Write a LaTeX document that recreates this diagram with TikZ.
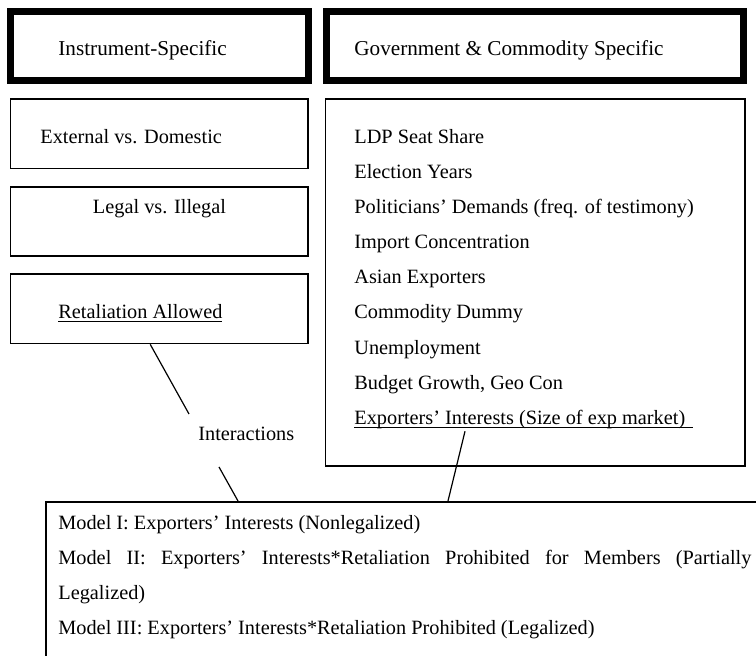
\documentclass[tikz,border=0pt]{standalone}
\usepackage{fontspec}
\setmainfont{Liberation Serif}
\usetikzlibrary{positioning,calc}

\newcommand{\uline}[1]{\underline{\smash{#1}}}

\tikzset{
  headbox/.style={draw, line width=3.5pt, minimum height=34.5pt},
  factorbox/.style={draw, line width=0.8pt},
  link/.style={line width=0.6pt},
  headtext/.style={font=\fontsize{10.6}{13}\selectfont, inner sep=0pt},
  bodytext/.style={font=\fontsize{10.15}{17.5}\selectfont, inner sep=0pt}
}

\begin{document}
\begin{tikzpicture}[x=0.5pt,y=-0.5pt]
\useasboundingbox (0,0) rectangle (756,656);
\clip (0,0) rectangle (756,656);
% header boxes
\node[headbox, minimum width=149pt] (insthead) at (159.5,46) {};
\node[headbox, minimum width=208.5pt] (govhead) at (534.5,46) {};
\node[headtext, anchor=base west] (insttitle) at (58,56) {Instrument-Specific};
\node[headtext, anchor=base west] (govtitle) at (354,56) {Government \& Commodity Specific};
% instrument factors
\node[factorbox, minimum width=148.75pt, minimum height=34.75pt] (extbox) at (159.25,133.75) {};
\node[factorbox, minimum width=148.75pt, minimum height=34.5pt] (legalbox) at (159.25,221.5) {};
\node[factorbox, minimum width=148.75pt, minimum height=34.75pt] (retalbox) at (159.25,308.75) {};
\node[bodytext, anchor=base west] (exttext) at (40,143.3) {External vs. Domestic};
\node[bodytext, anchor=base] (legaltext) at (159.5,213.3) {Legal vs. Illegal};
\node[bodytext, anchor=base west] (retaltext) at (58,318.3) {\uline{Retaliation Allowed}};
% government and commodity factors
\node[factorbox, minimum width=209.75pt, minimum height=183.5pt] (govbox) at (535.25,282.5) {};
\foreach \item [count=\i from 0] in {LDP Seat Share, Election Years,
    Politicians' Demands (freq. of testimony), Import Concentration,
    Asian Exporters, Commodity Dummy, Unemployment, {Budget Growth, Geo Con},
    {\uline{Exporters' Interests (Size of exp market)\hspace{4pt}}}}
  \node[bodytext, anchor=base west] (gov\i) at (354,143.5+35.1*\i) {\item};
% interactions
\node[bodytext, anchor=base west] (inter) at (198,440.3) {Interactions};
\node[factorbox, anchor=north west, minimum width=400pt, minimum height=110pt] (modelbox) at (45,501) {};
\node[bodytext, anchor=base west, text width=346.5pt, align=justify] (models) at (58,529.5)
  {\hyphenpenalty=10000
   Model I: Exporters' Interests (Nonlegalized)\\
   Model II: Exporters' Interests*Retaliation Prohibited for Members (Partially\linebreak Legalized)\\
   Model III: Exporters' Interests*Retaliation Prohibited (Legalized)};
% connectors
\coordinate (intA) at ($(inter.base west)+(-9,-26.3)$);
\coordinate (intB) at ($(inter.base west)+(21,26.7)$);
\draw[link] ($(retalbox.south west)+(140.5,0)$) -- (intA);
\draw[link] (intB) -- ($(modelbox.north west)+(193,0)$);
\draw[link] ($(gov8.base west)+(111,7)$) -- ($(modelbox.north west)+(403,0)$);
\end{tikzpicture}
\end{document}
